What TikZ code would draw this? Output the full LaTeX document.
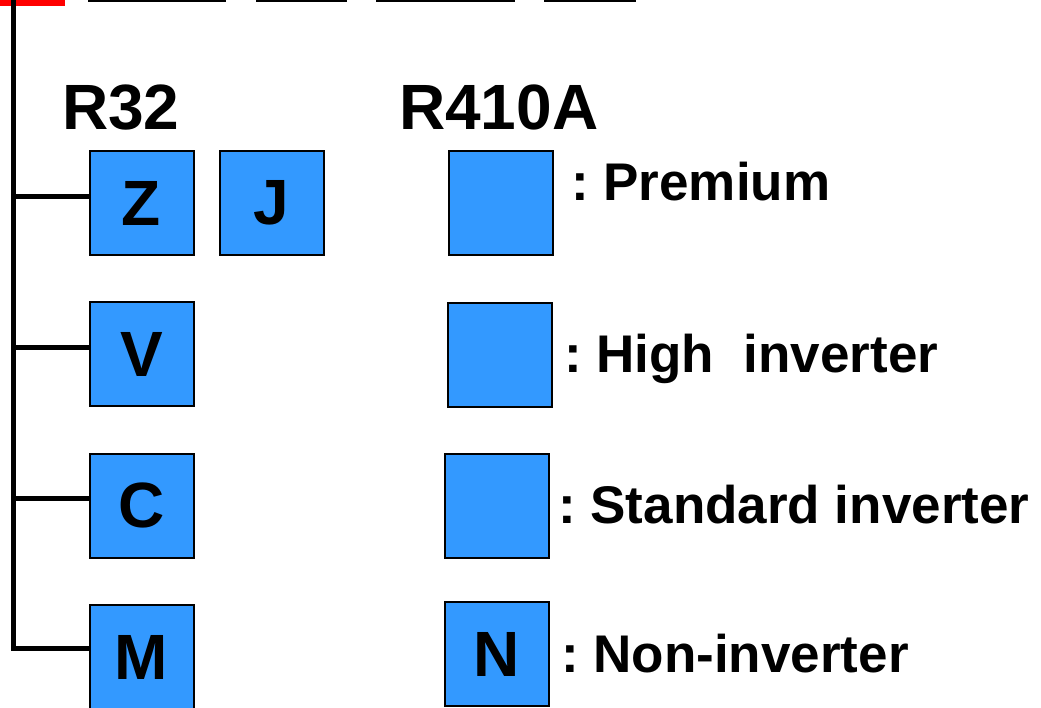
\documentclass[tikz,border=0pt]{standalone}
\usepackage{fontspec}
\setmainfont{Liberation Sans}
\usetikzlibrary{positioning}
\definecolor{boxblue}{RGB}{51,153,255}
\frenchspacing

\begin{document}
\begin{tikzpicture}[x=1pt, y=-1pt, node distance=24pt,
                    model/.style={draw=black, line width=2pt, fill=boxblue, inner sep=0pt,
                                  minimum size=104pt, font=\bfseries\fontsize{64}{64}\selectfont},
                    head/.style={anchor=base west, inner sep=0pt, font=\bfseries\fontsize{64}{64}\selectfont},
                    legend/.style={anchor=base west, inner sep=0pt, font=\bfseries\fontsize{53}{53}\selectfont},
                    tree/.style={draw=black, line width=5pt}]
\useasboundingbox (0,0) rectangle (1041,707);

% top of the figure (cut off)
\draw[red, line width=6pt] (0,3) -- (65,3);
\foreach \a/\b in {88/226, 256/347, 376/515, 544/636}
  \draw[line width=2pt] (\a,1) -- (\b,1);

% column heads
\node[head] (r32) at (62,129) {R32};
\node[head] (r410a) at (399,129) {R410A};

% R32 models
\node[model] (z) at (141.5,203) {Z};
\node[model] (j) [right=of z] {J};
\node[model] (v) at (141.5,354) {V};
\node[model] (c) at (141.5,505.5) {C};
\node[model] (m) at (141.5,657) {M};

% R410A models
\node[model] (p) at (501,203) {};
\node[model] (h) at (500,355) {};
\node[model] (s) at (497,505.5) {};
\node[model] (n) at (497,654) {N};

% grades
\node[legend] (prem) at (571,200) {: Premium};
\node[legend] (high) at (564,372) {: High~~inverter};
\node[legend] (std) at (558,523) {: Standard inverter};
\node[legend] (non) at (561,672) {: Non-inverter};

% tree
\coordinate (top) at (13,0);
\draw[tree] (top) |- ([yshift=9pt]m.west);
\foreach \b in {z,v,c}
  \draw[tree] ([yshift=7pt]\b.west) -- ([yshift=7pt]\b.west -| top);
\end{tikzpicture}
\end{document}
